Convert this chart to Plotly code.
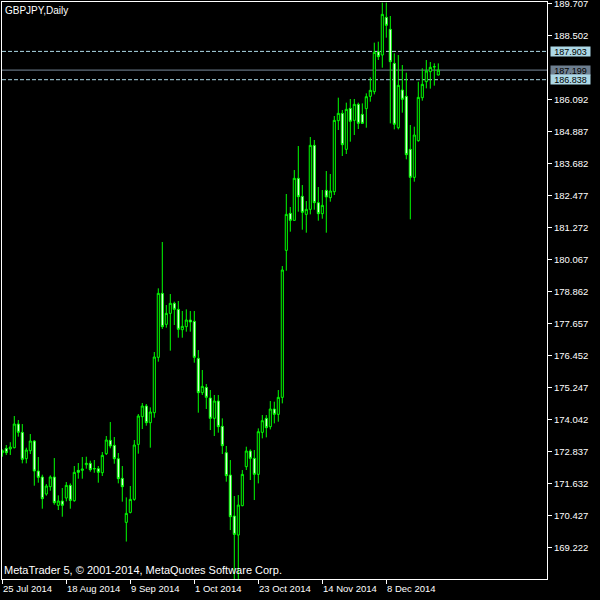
import pandas as pd
import plotly.graph_objects as go

# ---- data (GBPJPY daily) ----
opens = [172.795, 172.958, 172.933, 172.983, 173.874, 173.561, 172.569, 172.870, 173.234, 172.105,
         171.879, 171.239, 171.515, 171.879, 170.812, 170.975, 171.088, 171.565, 170.988, 172.130,
         172.130, 172.343, 172.394, 172.180, 172.193, 172.042, 172.758, 173.260, 173.072, 172.570,
         171.829, 170.172, 170.548, 171.038, 173.109, 174.151, 174.552, 173.925, 174.301, 176.385,
         178.794, 177.627, 178.041, 178.418, 178.192, 177.426, 177.539, 177.790, 177.740, 176.347,
         175.055, 175.255, 174.854, 174.088, 174.741, 173.787, 172.796, 171.954, 170.411, 169.695,
         170.800, 172.268, 172.858, 172.582, 171.979, 173.561, 174.088, 173.774, 174.439, 174.238,
         174.878, 180.413, 181.806, 181.542, 183.124, 182.446, 181.768, 181.957, 184.366, 182.208,
         181.793, 182.672, 182.396, 182.622, 185.295, 185.571, 184.216, 185.759, 185.307, 185.910,
         185.533, 185.747, 186.211, 186.387, 187.893, 187.767, 189.185, 188.734, 187.453, 185.031,
         186.449, 186.211, 184.216, 183.161, 184.542, 186.161, 186.763, 187.140, 187.315, 187.014]
highs = [172.921, 173.084, 173.190, 174.176, 174.025, 173.874, 172.983, 173.498, 173.272, 172.632,
         171.967, 171.615, 171.942, 172.594, 171.189, 171.465, 171.691, 171.640, 172.293, 172.406,
         172.632, 172.644, 172.494, 172.520, 172.293, 172.821, 173.423, 173.950, 173.385, 172.783,
         172.293, 171.113, 171.540, 173.272, 174.251, 174.665, 174.628, 174.502, 176.586, 178.983,
         180.727, 178.355, 178.769, 178.481, 178.506, 178.129, 178.192, 178.129, 178.129, 176.660,
         175.908, 175.381, 175.155, 174.967, 174.967, 174.088, 173.047, 172.519, 171.164, 171.201,
         172.142, 173.021, 172.920, 172.895, 173.711, 174.213, 174.213, 174.740, 174.715, 175.154,
         179.823, 182.534, 182.044, 183.437, 184.341, 182.873, 182.270, 184.680, 184.567, 182.797,
         182.684, 183.400, 183.287, 185.471, 186.161, 185.696, 185.973, 186.111, 186.111, 185.973,
         185.947, 186.324, 186.926, 188.232, 188.269, 189.738, 189.738, 189.236, 187.830, 187.767,
         187.391, 187.102, 185.132, 185.069, 186.763, 187.265, 187.579, 187.504, 187.453, 187.453]
lows = [172.644, 172.707, 172.710, 172.958, 173.398, 172.394, 172.394, 172.745, 171.553, 171.665,
        170.687, 171.176, 171.364, 170.837, 170.637, 170.385, 170.963, 170.687, 170.950, 171.816,
        171.816, 172.193, 172.080, 172.040, 171.666, 171.917, 172.708, 172.959, 172.381, 171.641,
        170.951, 169.450, 170.511, 170.988, 172.758, 173.687, 173.812, 172.984, 174.113, 176.222,
        177.452, 177.502, 176.636, 177.602, 177.125, 177.125, 177.351, 177.351, 176.184, 174.301,
        174.967, 174.440, 173.649, 173.423, 173.549, 172.745, 171.704, 169.883, 168.000, 168.000,
        170.780, 172.142, 171.766, 171.013, 171.640, 173.335, 173.372, 173.673, 173.899, 173.962,
        174.652, 179.647, 181.116, 181.542, 181.869, 181.191, 181.078, 181.768, 181.944, 181.530,
        181.605, 181.078, 182.245, 182.496, 184.943, 183.965, 184.040, 184.504, 184.755, 184.981,
        185.169, 185.031, 186.010, 186.286, 187.579, 187.290, 188.420, 185.194, 184.968, 184.968,
        185.596, 183.839, 181.580, 182.998, 184.504, 186.048, 186.512, 186.500, 186.613, 187.002]
closes = [172.870, 172.795, 173.008, 173.874, 173.561, 172.544, 172.896, 173.234, 172.105, 171.866,
          171.063, 171.540, 171.879, 170.913, 170.975, 170.812, 171.565, 171.000, 172.055, 172.055,
          172.180, 172.394, 172.155, 172.200, 172.055, 172.695, 173.272, 173.046, 172.570, 171.816,
          171.515, 170.510, 171.038, 173.084, 174.176, 174.552, 173.925, 174.327, 176.397, 178.794,
          177.539, 178.041, 178.418, 178.192, 177.439, 177.552, 177.790, 177.715, 176.384, 175.054,
          175.293, 174.879, 174.088, 174.741, 173.775, 173.059, 171.930, 170.385, 169.720, 170.824,
          171.979, 172.858, 172.582, 171.979, 173.586, 174.000, 173.736, 174.439, 174.238, 174.878,
          179.672, 181.768, 181.542, 183.124, 182.433, 181.843, 181.957, 184.366, 182.208, 181.793,
          182.107, 182.421, 182.647, 185.307, 185.571, 184.391, 185.722, 185.270, 185.910, 185.194,
          185.194, 186.198, 186.437, 187.868, 187.704, 189.298, 188.884, 187.516, 185.157, 186.625,
          186.098, 184.015, 183.161, 184.755, 186.173, 186.663, 187.165, 187.303, 187.328, 187.199]

dates = pd.bdate_range("2014-07-25", periods=len(opens)).strftime("%Y-%m-%d").tolist()

x_label_idx = [0, 16, 32, 48, 64, 80, 96]
x_labels = ["25 Jul 2014", "18 Aug 2014", "9 Sep 2014", "1 Oct 2014",
            "23 Oct 2014", "14 Nov 2014", "8 Dec 2014"]

y_ticks = [189.707, 188.502, 186.092, 184.887, 183.682, 182.477, 181.272, 180.067,
           178.862, 177.657, 176.452, 175.247, 174.042, 172.837, 171.632, 170.427, 169.222]

level_upper = 187.903
level_bid = 187.199
level_lower = 186.838

symbol_title = "GBPJPY,Daily"
copyright_text = "MetaTrader 5, © 2001-2014, MetaQuotes Software Corp."

# ---- figure ----
FONT = "Liberation Sans, Arial, sans-serif"
LIME = "#00ff00"

fig = go.Figure(go.Candlestick(
    x=dates, open=opens, high=highs, low=lows, close=closes,
    increasing=dict(line=dict(color=LIME, width=1), fillcolor="#000000"),
    decreasing=dict(line=dict(color=LIME, width=1), fillcolor="#ffffff"),
    whiskerwidth=0, hoverinfo="skip", showlegend=False,
))

fig.update_layout(
    width=600, height=600,
    margin=dict(l=2, r=53, t=2, b=21, autoexpand=False),
    paper_bgcolor="#000000", plot_bgcolor="#000000",
    boxgap=0.25,
    font=dict(family=FONT, size=10, color="#ffffff"),
    showlegend=False,
)
fig.update_xaxes(
    type="category", range=[-0.075, 136.175], automargin=False,
    rangeslider=dict(visible=False),
    showgrid=False, zeroline=False,
    showline=True, linecolor="#ffffff", linewidth=1, mirror=True,
    tickmode="array", tickvals=[dates[i] for i in x_label_idx],
    ticktext=["" for _ in x_label_idx],
    ticks="outside", ticklen=4, tickcolor="#ffffff", tickwidth=1,
)
fig.update_yaxes(
    side="right", range=[168.04, 189.763], automargin=False,
    showgrid=False, zeroline=False,
    showline=True, linecolor="#ffffff", linewidth=1, mirror=True,
    tickmode="array", tickvals=y_ticks, ticktext=[f"{v:.3f}" for v in y_ticks],
    ticks="outside", ticklen=4, tickcolor="#ffffff", tickwidth=1,
    ticklabeloverflow="allow",
    tickfont=dict(family=FONT, size=9.5, color="#ffffff"),
)

# horizontal levels
for lvl, col, dash in [(level_upper, "#add8e6", "4px,2px"),
                       (level_lower, "#add8e6", "4px,2px"),
                       (level_bid, "#778899", "solid")]:
    fig.add_shape(type="line", xref="paper", x0=0, x1=1, yref="y", y0=lvl, y1=lvl,
                  line=dict(color=col, width=1, dash=dash), layer="below")

annotations = []
for lvl, bg in [(level_upper, "#add8e6"), (level_bid, "#6e7f90"), (level_lower, "#add8e6")]:
    annotations.append(dict(
        xref="paper", x=1, xanchor="left", xshift=3,
        yref="y", y=lvl, yanchor="middle",
        text=f"{lvl:.3f}", showarrow=False, bgcolor=bg,
        font=dict(family=FONT, size=9, color="#000000"),
        width=38, height=8, borderpad=0.5, align="center",
    ))
for i, lab in zip(x_label_idx, x_labels):
    annotations.append(dict(
        xref="x", x=dates[i], xanchor="left", xshift=-1,
        yref="paper", y=0, yanchor="top", yshift=-2,
        text=lab, showarrow=False,
        font=dict(family=FONT, size=9.5, color="#ffffff"),
    ))
annotations.append(dict(
    xref="paper", x=0, xanchor="left", xshift=1,
    yref="paper", y=1, yanchor="top", yshift=-1,
    text=symbol_title, showarrow=False,
    font=dict(family=FONT, size=10, color="#ffffff"),
))
annotations.append(dict(
    xref="paper", x=0, xanchor="left", xshift=0,
    yref="paper", y=0, yanchor="bottom", yshift=1,
    text=copyright_text, showarrow=False,
    font=dict(family=FONT, size=11, color="#ffffff"),
))
fig.update_layout(annotations=annotations)

fig.write_html(
    "out.html",
    config={"displayModeBar": False},
    post_script="document.body.style.margin='0';document.body.style.overflow='hidden';",
)
